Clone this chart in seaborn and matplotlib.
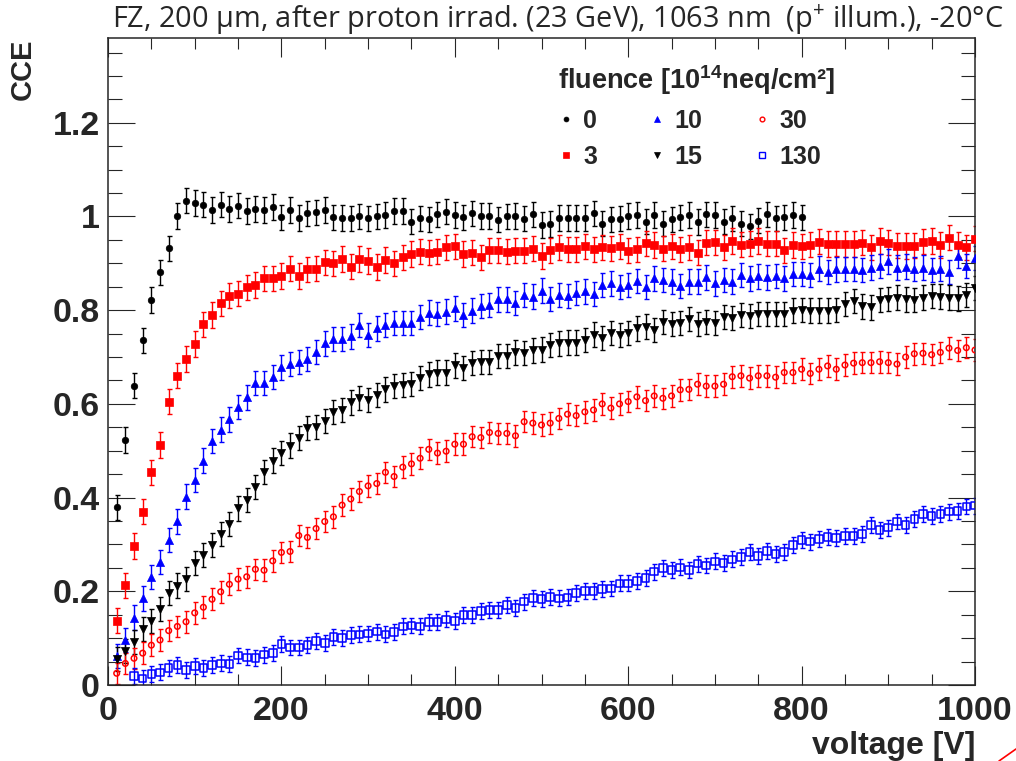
import numpy as np
import pandas as pd
import matplotlib
matplotlib.use("Agg")
import matplotlib.pyplot as plt
from matplotlib import font_manager
from matplotlib.ticker import MultipleLocator, FuncFormatter
from matplotlib.lines import Line2D
import seaborn as sns

# ---------------- data ----------------
fluence_labels = ["0", "3", "10", "15", "30", "130"]

volt_0 = np.arange(10, 810, 10)
cce_0 = [0.379, 0.523, 0.639, 0.736, 0.822, 0.881, 0.932, 1.001, 1.034, 1.029,
         1.025, 1.014, 1.025, 1.016, 1.023, 1.012, 1.016, 1.014, 1.020, 0.998,
         1.014, 0.997, 1.007, 1.009, 1.014, 0.998, 0.997, 0.996, 1.000, 0.996,
         1.000, 1.003, 1.012, 1.012, 0.989, 0.996, 0.994, 1.005, 1.010, 1.003,
         0.998, 1.007, 1.001, 1.001, 0.993, 1.000, 1.001, 0.995, 1.005, 0.982,
         0.984, 0.997, 0.997, 0.997, 0.997, 1.007, 0.985, 0.994, 0.995, 1.001,
         1.003, 0.989, 1.003, 0.985, 0.994, 0.998, 1.003, 0.988, 1.005, 1.003,
         0.989, 0.996, 0.985, 0.979, 0.991, 1.005, 0.996, 0.998, 1.003, 0.998]

volt_full = np.arange(10, 1010, 10)
cce_3 = [0.137, 0.213, 0.297, 0.370, 0.454, 0.512, 0.605, 0.660, 0.696, 0.728,
         0.770, 0.790, 0.815, 0.831, 0.835, 0.849, 0.854, 0.868, 0.868, 0.873,
         0.889, 0.873, 0.887, 0.889, 0.902, 0.900, 0.909, 0.893, 0.909, 0.905,
         0.892, 0.907, 0.900, 0.913, 0.920, 0.925, 0.923, 0.925, 0.934, 0.936,
         0.920, 0.923, 0.913, 0.928, 0.928, 0.925, 0.927, 0.927, 0.931, 0.916,
         0.928, 0.934, 0.930, 0.930, 0.936, 0.930, 0.934, 0.932, 0.936, 0.927,
         0.930, 0.943, 0.939, 0.931, 0.936, 0.930, 0.934, 0.923, 0.944, 0.945,
         0.934, 0.948, 0.940, 0.942, 0.948, 0.942, 0.942, 0.928, 0.939, 0.936,
         0.940, 0.946, 0.941, 0.942, 0.941, 0.941, 0.944, 0.934, 0.948, 0.944,
         0.938, 0.937, 0.938, 0.946, 0.948, 0.939, 0.955, 0.940, 0.934, 0.953]
cce_10 = [0.062, 0.096, 0.144, 0.185, 0.231, 0.263, 0.309, 0.349, 0.402, 0.438,
          0.479, 0.521, 0.545, 0.567, 0.593, 0.614, 0.645, 0.645, 0.658, 0.678,
          0.685, 0.690, 0.696, 0.711, 0.729, 0.738, 0.738, 0.744, 0.768, 0.747,
          0.761, 0.768, 0.772, 0.772, 0.773, 0.785, 0.795, 0.792, 0.797, 0.804,
          0.790, 0.799, 0.809, 0.811, 0.823, 0.823, 0.815, 0.832, 0.829, 0.842,
          0.824, 0.832, 0.830, 0.837, 0.840, 0.835, 0.854, 0.857, 0.849, 0.854,
          0.863, 0.850, 0.868, 0.864, 0.861, 0.852, 0.861, 0.861, 0.870, 0.857,
          0.864, 0.861, 0.875, 0.868, 0.872, 0.870, 0.873, 0.868, 0.877, 0.877,
          0.875, 0.889, 0.881, 0.887, 0.888, 0.888, 0.886, 0.891, 0.895, 0.904,
          0.891, 0.893, 0.888, 0.891, 0.886, 0.889, 0.882, 0.916, 0.894, 0.911]
cce_15 = [0.055, 0.073, 0.092, 0.120, 0.137, 0.162, 0.197, 0.212, 0.226, 0.260,
          0.277, 0.299, 0.322, 0.344, 0.377, 0.395, 0.423, 0.455, 0.479, 0.495,
          0.511, 0.527, 0.549, 0.551, 0.563, 0.583, 0.587, 0.603, 0.612, 0.608,
          0.619, 0.631, 0.638, 0.640, 0.642, 0.655, 0.663, 0.667, 0.667, 0.682,
          0.676, 0.687, 0.690, 0.690, 0.702, 0.702, 0.710, 0.708, 0.714, 0.716,
          0.726, 0.729, 0.731, 0.731, 0.736, 0.748, 0.740, 0.751, 0.747, 0.752,
          0.761, 0.765, 0.758, 0.775, 0.771, 0.772, 0.781, 0.771, 0.775, 0.773,
          0.785, 0.783, 0.790, 0.788, 0.792, 0.792, 0.792, 0.792, 0.799, 0.800,
          0.799, 0.799, 0.799, 0.800, 0.813, 0.820, 0.808, 0.806, 0.822, 0.824,
          0.827, 0.823, 0.822, 0.827, 0.830, 0.829, 0.827, 0.825, 0.832, 0.847]
cce_30 = [0.025, 0.046, 0.057, 0.068, 0.085, 0.096, 0.116, 0.125, 0.135, 0.154,
          0.166, 0.183, 0.199, 0.215, 0.226, 0.231, 0.247, 0.245, 0.265, 0.283,
          0.285, 0.319, 0.315, 0.334, 0.349, 0.359, 0.384, 0.397, 0.413, 0.425,
          0.430, 0.454, 0.445, 0.465, 0.472, 0.484, 0.503, 0.495, 0.499, 0.514,
          0.514, 0.530, 0.528, 0.539, 0.537, 0.537, 0.532, 0.562, 0.559, 0.555,
          0.559, 0.569, 0.578, 0.575, 0.583, 0.587, 0.600, 0.591, 0.600, 0.605,
          0.615, 0.607, 0.617, 0.612, 0.617, 0.630, 0.631, 0.642, 0.638, 0.638,
          0.642, 0.658, 0.660, 0.655, 0.660, 0.660, 0.657, 0.667, 0.667, 0.674,
          0.665, 0.674, 0.681, 0.674, 0.683, 0.687, 0.688, 0.688, 0.690, 0.688,
          0.685, 0.700, 0.707, 0.708, 0.705, 0.710, 0.719, 0.714, 0.720, 0.715]

volt_130 = np.arange(30, 1010, 10)
cce_130 = [0.019, 0.014, 0.023, 0.027, 0.036, 0.043, 0.032, 0.041,
           0.036, 0.043, 0.046, 0.045, 0.063, 0.059, 0.058, 0.065, 0.068, 0.087,
           0.080, 0.080, 0.085, 0.094, 0.089, 0.103, 0.100, 0.107, 0.108, 0.110,
           0.114, 0.108, 0.113, 0.125, 0.127, 0.125, 0.135, 0.135, 0.140, 0.137,
           0.149, 0.149, 0.158, 0.160, 0.160, 0.171, 0.165, 0.178, 0.186, 0.183,
           0.188, 0.185, 0.187, 0.196, 0.201, 0.201, 0.205, 0.206, 0.217, 0.217,
           0.222, 0.229, 0.242, 0.250, 0.245, 0.251, 0.246, 0.259, 0.255, 0.264,
           0.260, 0.268, 0.273, 0.284, 0.275, 0.286, 0.280, 0.284, 0.299, 0.309,
           0.306, 0.311, 0.316, 0.314, 0.318, 0.318, 0.322, 0.342, 0.331, 0.336,
           0.349, 0.342, 0.354, 0.365, 0.361, 0.365, 0.370, 0.372, 0.381, 0.383]

cce_err = [0.027, 0.027, 0.026, 0.026, 0.023, 0.017]

# ---------------- style ----------------
sns.set_style("ticks")
fm_names = {f.name for f in font_manager.fontManager.ttflist}
main_font = "Liberation Sans" if "Liberation Sans" in fm_names else "DejaVu Sans"
title_font = "Open Sans" if "Open Sans" in fm_names else main_font
plt.rcParams["font.family"] = [main_font, "DejaVu Sans"]
plt.rcParams["font.weight"] = "bold"
plt.rcParams["mathtext.default"] = "regular"
plt.rcParams["axes.linewidth"] = 1.1

W, H = 1016, 761
fig = plt.figure(figsize=(W / 100, H / 100), dpi=100)
ax = fig.add_axes([108 / W, 1 - 685 / H, (975 - 108) / W, (685 - 38) / H])

series = [
    (volt_0, cce_0, "o", "black", True, 22),
    (volt_full, cce_3, "s", "red", True, 30),
    (volt_full, cce_10, "^", "blue", True, 34),
    (volt_full, cce_15, "v", "black", True, 34),
    (volt_full, cce_30, "o", "red", False, 16),
    (volt_130, cce_130, "s", "blue", False, 30),
]

handles = []
for (v, c, m, col, filled, s), lab, e in zip(series, fluence_labels, cce_err):
    df = pd.DataFrame({"voltage": v, "cce": c})
    ax.errorbar(df["voltage"], df["cce"], yerr=e, fmt="none", ecolor=col,
                elinewidth=1.0, capsize=1.8, capthick=1.0, zorder=2)
    if filled:
        sns.scatterplot(data=df, x="voltage", y="cce", marker=m, s=s,
                        color=col, edgecolor=col, linewidth=0.5, ax=ax, zorder=3)
    else:
        sns.scatterplot(data=df, x="voltage", y="cce", marker=m, s=s,
                        facecolor="none", edgecolor=col, linewidth=1.1, ax=ax, zorder=3)
    handles.append(Line2D([], [], linestyle="none", marker=m,
                          markersize=np.sqrt(s) * (0.75 if m == "o" and filled else 0.85),
                          markerfacecolor=col if filled else "none",
                          markeredgecolor=col, markeredgewidth=1.0 if not filled else 0.5))

ax.set_xlim(0, 1000)
ax.set_ylim(0, 1.381)
ax.xaxis.set_major_locator(MultipleLocator(200))
ax.xaxis.set_minor_locator(MultipleLocator(50))
ax.yaxis.set_major_locator(MultipleLocator(0.2))
ax.yaxis.set_minor_locator(MultipleLocator(0.05))
ax.yaxis.set_major_formatter(FuncFormatter(lambda v, p: f"{round(v, 2):g}"))
ax.xaxis.set_major_formatter(FuncFormatter(lambda v, p: f"{v:g}"))

ax.tick_params(which="both", direction="in", top=True, right=True, width=0.8,
               labelsize=24.5)
ax.tick_params(axis="x", which="major", length=13.5, pad=8)
ax.tick_params(axis="x", which="minor", length=8)
ax.tick_params(axis="y", which="major", length=19.5, pad=6)
ax.tick_params(axis="y", which="minor", length=10)
for lab in ax.get_xticklabels() + ax.get_yticklabels():
    lab.set_fontweight("bold")

ax.set_xlabel("voltage [V]", fontsize=23, fontweight="bold", loc="right")
ax.xaxis.set_label_coords(1.0, (685 - 731) / 647)
ax.set_ylabel("CCE", fontsize=21, fontweight="bold", loc="top")
ax.yaxis.set_label_coords((37 - 108) / 867, 1.0)

title = ax.set_title("FZ, 200 µm, after proton irrad. (23 GeV), 1063 nm  (p$^{+}$ illum.), -20°C",
                     fontsize=19, fontweight="normal", family=[title_font, "DejaVu Sans"],
                     loc="left", x=(112 - 108) / 867, y=1.0, pad=7.2)

leg = ax.legend(handles, fluence_labels, ncol=3, frameon=False,
                title="fluence [10$^{14}$neq/cm²]",
                title_fontproperties={"size": 19.5, "weight": "bold"},
                prop={"size": 18, "weight": "bold"}, alignment="left",
                handlelength=0.6, handletextpad=0.4, columnspacing=2.1,
                labelspacing=0.48, borderpad=0, borderaxespad=0,
                loc="upper left", bbox_to_anchor=(558 / W, 1 - 63 / H),
                bbox_transform=fig.transFigure)

fig.add_artist(Line2D([999 / W, 1.0], [0.0, 12 / H], color="red", linewidth=1.2,
                      transform=fig.transFigure))

# fit the title to the reference width (from x=112 to x=1005 px)
fig.canvas.draw()
tw = title.get_window_extent().width
title.set_fontsize(19 * (1005 - 112) / tw)

fig.savefig("out.png", dpi=100)
